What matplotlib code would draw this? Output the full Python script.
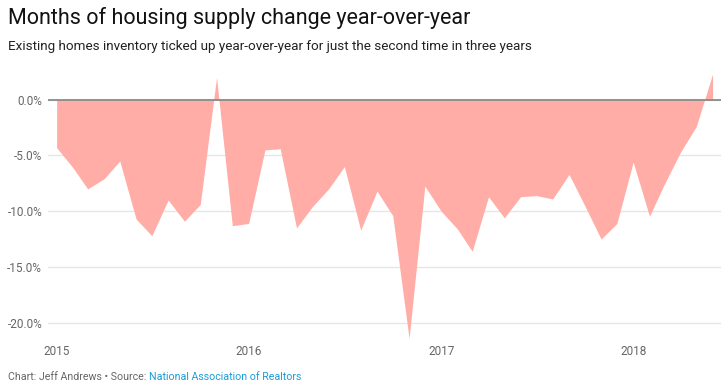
import matplotlib
matplotlib.use("Agg")
import matplotlib.pyplot as plt
import pandas as pd
import numpy as np

# Monthly year-over-year change in months of housing supply (%), Jan 2015 - Jun 2018
months = pd.date_range("2015-01-01", periods=42, freq="MS")
values = [
    -4.3, -6.1, -8.0, -7.1, -5.5, -10.7, -12.2, -9.0, -10.9, -9.4, 2.0, -11.3,
    -11.1, -4.5, -4.4, -11.5, -9.6, -8.0, -6.0, -11.7, -8.2, -10.4, -21.4, -7.75,
    -10.0, -11.6, -13.6, -8.7, -10.6, -8.7, -8.6, -8.9, -6.7, -9.5, -12.5, -11.1,
    -5.6, -10.45, -7.6, -4.7, -2.4, 2.3,
]
y_ticks = [0, -5, -10, -15, -20]
y_tick_labels = ["0.0%", "-5.0%", "-10.0%", "-15.0%", "-20.0%"]
year_ticks = ["2015", "2016", "2017", "2018"]

title = "Months of housing supply change year-over-year"
subtitle = "Existing homes inventory ticked up year-over-year for just the second time in three years"
credit = "Chart: Jeff Andrews \u2022 Source: "
source = "National Association of Realtors"

plt.rcParams["font.family"] = ["Roboto", "DejaVu Sans"]

fig = plt.figure(figsize=(7.28, 3.87), dpi=100)
ax = fig.add_axes([0.0655, 0.120, 0.9249, 0.6945])

ax.fill_between(months, values, 0, color="#FFADA6", linewidth=0, zorder=2)
ax.axhline(0, color="#8a8a8a", linewidth=1.3, zorder=3)

ax.set_ylim(-21.6, 2.5)
ax.set_xlim(months[0] - pd.Timedelta(days=17), months[-1] + pd.Timedelta(days=16))
ax.set_yticks(y_ticks)
ax.set_yticklabels(y_tick_labels)
ax.set_xticks([pd.Timestamp(f"{y}-01-01") for y in year_ticks])
ax.set_xticklabels(year_ticks)

ax.grid(axis="y", color="#e6e6e6", linewidth=1, zorder=0)
ax.grid(axis="x", visible=False)
for s in ax.spines.values():
    s.set_visible(False)
ax.tick_params(axis="both", length=0, labelsize=8.5, labelcolor="#666666")
ax.tick_params(axis="y", pad=4)
ax.tick_params(axis="x", pad=3)

fig.text(0.011, 0.953, title, fontsize=15.5, color="#111111", va="center", ha="left")
fig.text(0.011, 0.880, subtitle, fontsize=9.7, color="#222222", va="center", ha="left")

t = fig.text(0.011, 0.026, credit, fontsize=7.65, color="#666666", va="center", ha="left")
fig.canvas.draw()
bb = t.get_window_extent()
x_end = bb.x1 / fig.bbox.width
fig.text(x_end, 0.026, source, fontsize=7.65, color="#1a9bd7", va="center", ha="left")

fig.savefig("out.png", dpi=100)
